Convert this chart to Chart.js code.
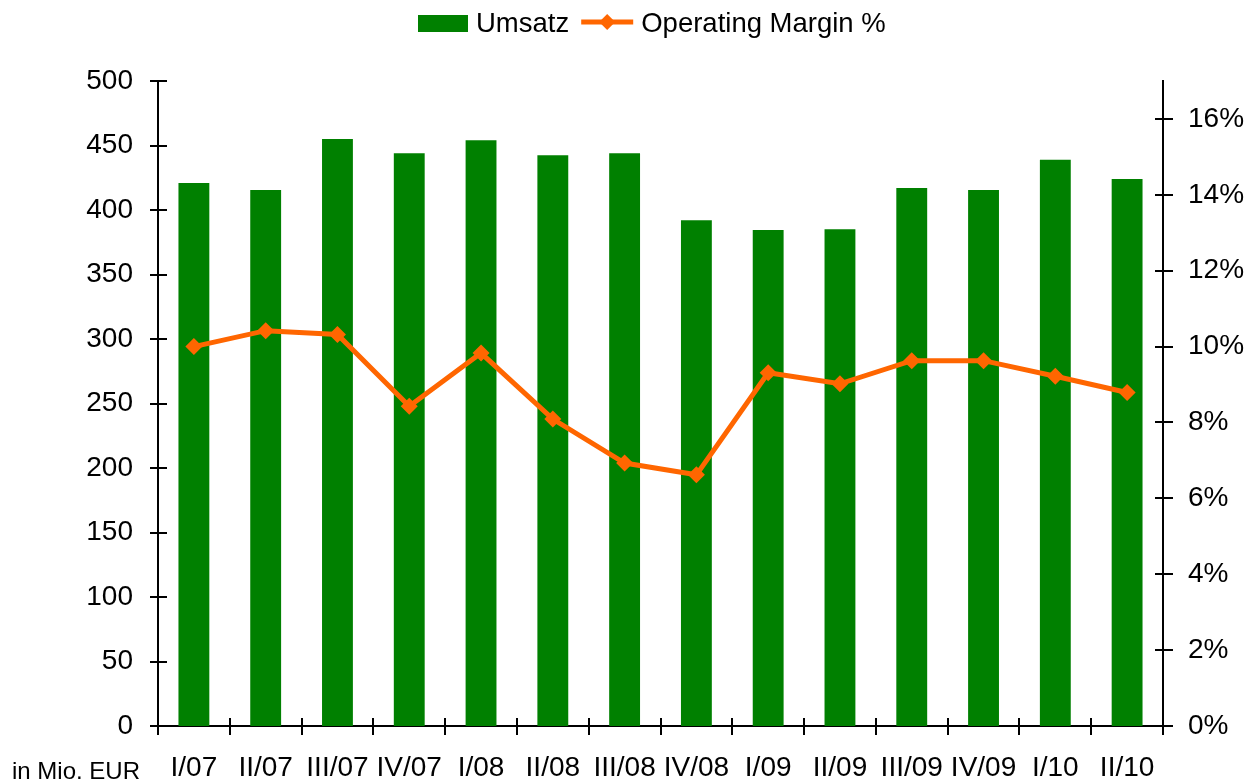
<!DOCTYPE html>
<html>
<head>
<meta charset="utf-8">
<script src="https://cdn.jsdelivr.net/npm/chart.js@4.4.0/dist/chart.umd.min.js"></script>
<style>
    html, body { margin: 0; padding: 0; background: #fff; }
    #wrap { position: relative; width: 1247px; height: 782px; }
</style>
</head>
<body>
<div id="wrap"><canvas id="umsatzChart"></canvas></div>
<script>
// Quarterly figures
const quarters = ['I/07', 'II/07', 'III/07', 'IV/07', 'I/08', 'II/08', 'III/08', 'IV/08',
                  'I/09', 'II/09', 'III/09', 'IV/09', 'I/10', 'II/10'];
const umsatz = [421, 415.5, 455, 444, 454, 442.5, 444, 392, 384.5, 385, 417, 415.5, 439, 424];
const operatingMargin = [10.0, 10.42, 10.32, 8.43, 9.83, 8.09, 6.93, 6.62, 9.31, 9.02, 9.63, 9.63, 9.22, 8.79];
const umsatzTicks = [0, 50, 100, 150, 200, 250, 300, 350, 400, 450, 500];
const marginTicks = [0, 2, 4, 6, 8, 10, 12, 14, 16];

const GREEN = '#008000';
const ORANGE = '#FF6600';
const FONT = '"Liberation Sans", Arial, sans-serif';

// crossing tick marks, axis note and legend
const decorations = {
    id: 'decorations',
    afterDraw(chart) {
        const ctx = chart.ctx;
        const x = chart.scales.x, y = chart.scales.y, y1 = chart.scales.y1;
        ctx.save();
        ctx.strokeStyle = '#000';
        ctx.lineWidth = 2;
        ctx.beginPath();
        y.ticks.forEach(t => {
            const py = Math.round(y.getPixelForValue(t.value));
            ctx.moveTo(y.right - 8, py);
            ctx.lineTo(y.right + 9, py);
        });
        y1.ticks.forEach(t => {
            const py = Math.round(y1.getPixelForValue(t.value));
            ctx.moveTo(y1.left - 8, py);
            ctx.lineTo(y1.left + 10, py);
        });
        for (let i = 0; i <= quarters.length; i++) {
            const px = Math.round(x.getPixelForValue(i - 0.5));
            ctx.moveTo(px, x.top - 8);
            ctx.lineTo(px, x.top + 9);
        }
        ctx.stroke();

        ctx.fillStyle = '#000';
        ctx.font = '24px ' + FONT;
        ctx.textBaseline = 'alphabetic';
        ctx.fillText('in Mio. EUR', 12, 779);

        // legend
        ctx.font = '27.5px ' + FONT;
        ctx.textBaseline = 'middle';
        let lx = 418;
        ctx.fillStyle = GREEN;
        ctx.fillRect(lx, 15, 50, 17);
        lx += 58;
        ctx.fillStyle = '#000';
        ctx.fillText('Umsatz', lx, 24);
        lx += ctx.measureText('Umsatz').width + 12;
        ctx.strokeStyle = ORANGE;
        ctx.lineWidth = 5;
        ctx.beginPath();
        ctx.moveTo(lx, 22);
        ctx.lineTo(lx + 52, 22);
        ctx.stroke();
        ctx.fillStyle = ORANGE;
        ctx.beginPath();
        ctx.moveTo(lx + 26, 14);
        ctx.lineTo(lx + 34, 22);
        ctx.lineTo(lx + 26, 30);
        ctx.lineTo(lx + 18, 22);
        ctx.closePath();
        ctx.fill();
        lx += 60;
        ctx.fillStyle = '#000';
        ctx.fillText('Operating Margin %', lx, 24);
        ctx.restore();
    }
};

new Chart(document.getElementById('umsatzChart'), {
    type: 'bar',
    data: {
        labels: quarters,
        datasets: [{
            type: 'line',
            label: 'Operating Margin %',
            data: operatingMargin,
            yAxisID: 'y1',
            borderColor: ORANGE,
            backgroundColor: ORANGE,
            borderWidth: 5,
            pointStyle: 'rectRot',
            pointRadius: 8.5,
            pointHoverRadius: 8.5,
            pointBorderWidth: 0,
            tension: 0,
            order: 0
        }, {
            type: 'bar',
            label: 'Umsatz',
            data: umsatz,
            yAxisID: 'y',
            backgroundColor: GREEN,
            categoryPercentage: 1,
            barPercentage: 0.43,
            order: 1
        }]
    },
    options: {
        responsive: true,
        maintainAspectRatio: false,
        animation: false,
        layout: { padding: { top: 81, left: 0, right: 0, bottom: 0 } },
        plugins: {
            legend: { display: false },
            tooltip: { enabled: false }
        },
        scales: {
            x: {
                offset: true,
                grid: { display: false, offset: true },
                border: { display: true, color: '#000', width: 2 },
                ticks: { color: '#000', font: { family: FONT, size: 28 }, padding: 17, maxRotation: 0, autoSkip: false },
                afterFit(scale) { scale.height = 56; }
            },
            y: {
                position: 'left',
                min: 0,
                max: 500,
                grid: { display: false },
                border: { display: true, color: '#000', width: 2 },
                ticks: { color: '#000', font: { family: FONT, size: 28 }, padding: 17, stepSize: 50 },
                afterBuildTicks(scale) { scale.ticks = umsatzTicks.map(v => ({ value: v })); },
                afterFit(scale) { scale.width = 158; }
            },
            y1: {
                position: 'right',
                min: 0,
                max: 17,
                grid: { display: false },
                border: { display: true, color: '#000', width: 2 },
                ticks: { color: '#000', font: { family: FONT, size: 28 }, padding: 17, callback: v => v + '%' },
                afterBuildTicks(scale) { scale.ticks = marginTicks.map(v => ({ value: v })); },
                afterFit(scale) { scale.width = 84; }
            }
        }
    },
    plugins: [decorations]
});
</script>
</body>
</html>
